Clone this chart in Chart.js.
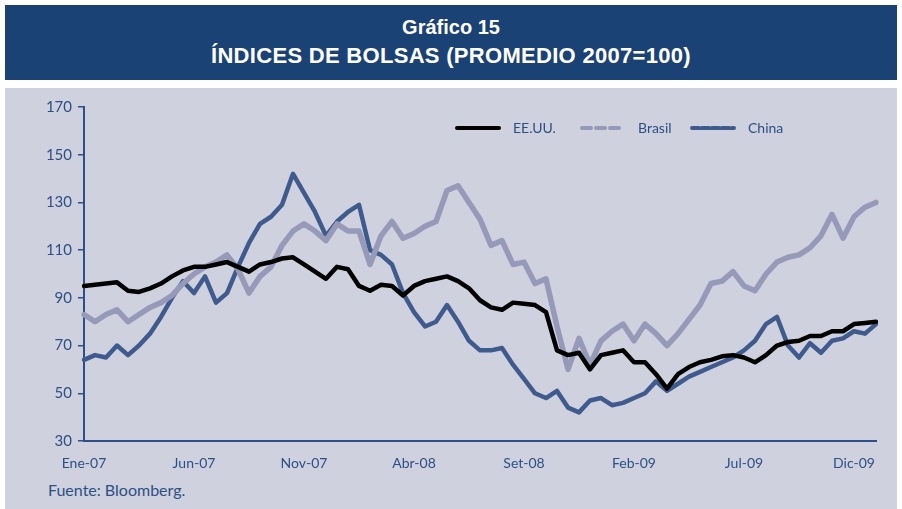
<!DOCTYPE html>
<html lang="es">
<head>
<meta charset="UTF-8">
<title>Índices de bolsas</title>
<script src="https://cdn.jsdelivr.net/npm/chart.js"></script>
<style>
    body { margin: 0; background: #ffffff; width: 902px; height: 509px; position: relative; overflow: hidden; font-family: Lato, "Noto Sans", sans-serif; }
    #cabecera {
        position: absolute; left: 5px; top: 5px; width: 892px; height: 75px;
        background: #1b4275; color: #ffffff; text-align: center;
        font-family: "Liberation Sans", sans-serif; font-weight: bold;
    }
    #cabecera .l1 { position: absolute; left: 0; right: 0; top: 11px; font-size: 20px; }
    #cabecera .l2 { position: absolute; left: 0; right: 0; top: 38px; font-size: 22px; letter-spacing: 0.3px; }
    #panel { position: absolute; left: 5px; top: 88px; width: 892px; height: 421px; background: #cfd1de; }
    #fuente { position: absolute; left: 48px; top: 480px; font-size: 16px; color: #2d4f85; }
    #wrap { position: absolute; left: 0; top: 0; width: 902px; height: 509px; }
</style>
</head>
<body>
<div id="cabecera">
    <div class="l1">Gráfico 15</div>
    <div class="l2">ÍNDICES DE BOLSAS (PROMEDIO 2007=100)</div>
</div>
<div id="panel"></div>
<div id="fuente">Fuente: Bloomberg.</div>
<div id="wrap"><canvas id="grafico" width="902" height="509"></canvas></div>

<script>
// datos quincenales, enero 2007 - diciembre 2009 (promedio 2007 = 100)
const meses = ["Ene", "Feb", "Mar", "Abr", "May", "Jun", "Jul", "Ago", "Set", "Oct", "Nov", "Dic"];
const anios = ["07", "08", "09", "10"];
const series = ["EE.UU.", "Brasil", "China"];

const eeuu = [95, 95.5, 96, 96.5, 93, 92.5, 94, 96, 99, 101.5, 103, 103, 104, 105, 103, 101, 104, 105, 106.5, 107,
    104, 101, 98, 103, 102, 95, 93, 95.5, 95, 91, 95, 97, 98, 99, 97, 94, 89, 86, 85, 88,
    87.5, 87, 84, 68, 66, 67, 60, 66, 67, 68, 63, 63, 58, 52, 58, 61, 63, 64, 65.5, 66,
    65, 63, 66, 70, 71.5, 72, 74, 74, 76, 76, 79, 79.5, 80];
const brasil = [83, 80, 83, 85, 80, 83, 86, 88, 91, 96, 100, 103, 105, 108, 102, 92, 99, 103, 112, 118,
    121, 118, 114, 121, 118, 118, 104, 116, 122, 115, 117, 120, 122, 135, 137, 130, 123, 112, 114, 104,
    105, 96, 98, 78, 60, 73, 62, 72, 76, 79, 72, 79, 75, 70, 75, 81, 87, 96, 97, 101,
    95, 93, 100, 105, 107, 108, 111, 116, 125, 115, 124, 128, 130];
const china = [64, 66, 65, 70, 66, 70, 75, 82, 90, 97, 92, 99, 88, 92, 103, 113, 121, 124, 129, 142,
    134, 126, 116, 122, 126, 129, 110, 108, 104, 92, 84, 78, 80, 87, 80, 72, 68, 68, 69, 62,
    56, 50, 48, 51, 44, 42, 47, 48, 45, 46, 48, 50, 55, 51, 54, 57, 59, 61, 63, 65,
    68, 72, 79, 82, 70, 65, 71, 67, 72, 73, 76, 75, 79];

const ejeY = { min: 30, max: 170, paso: 20 };

// etiquetas quincenales
const fechas = [];
for (let i = 0; i < eeuu.length; i++) {
    const m = Math.floor(i / 2);
    const etiqueta = meses[m % 12] + "-" + anios[Math.floor(m / 12)];
    fechas.push(i % 2 === 0 ? etiqueta : "15 " + etiqueta);
}

const azul = "#2d4f85";
const estilos = [
    { color: "#000000", ancho: 4.5, guion: [] },
    { color: "#9699b8", ancho: 5.5, guion: [9, 5] },
    { color: "#3f5b8e", ancho: 4.5, guion: [7, 3] }
];

// leyenda dentro del area del grafico
const leyenda = {
    id: "leyenda",
    afterDraw(chart) {
        const ctx = chart.ctx;
        const pos = [457, 582, 692];
        const y = 128;
        ctx.save();
        chart.data.datasets.forEach((ds, i) => {
            const e = estilos[i];
            ctx.strokeStyle = e.color;
            ctx.lineWidth = 4;
            ctx.lineCap = "round";
            ctx.setLineDash(e.guion);
            ctx.beginPath();
            ctx.moveTo(pos[i], y);
            ctx.lineTo(pos[i] + 42, y);
            ctx.stroke();
            ctx.setLineDash([]);
            ctx.fillStyle = azul;
            ctx.font = "14px Lato, 'Noto Sans', sans-serif";
            ctx.textBaseline = "middle";
            ctx.fillText(ds.label, pos[i] + 56, y);
        });
        ctx.restore();
    }
};

new Chart(document.getElementById("grafico"), {
    type: "line",
    data: {
        labels: fechas,
        datasets: [eeuu, brasil, china].map((d, i) => ({
            label: series[i],
            data: d,
            borderColor: estilos[i].color,
            borderWidth: estilos[i].ancho,
            pointRadius: 0,
            tension: 0,
            borderJoinStyle: "round",
            borderCapStyle: "round"
        }))
    },
    options: {
        responsive: false,
        animation: false,
        layout: { padding: { top: 107, right: 26, bottom: 28, left: 0 } },
        plugins: { legend: { display: false }, tooltip: { enabled: false } },
        scales: {
            x: {
                offset: false,
                grid: { display: false },
                border: { display: true, color: azul, width: 2 },
                ticks: {
                    autoSkip: false,
                    maxRotation: 0,
                    color: azul,
                    font: { size: 14, family: "Lato, 'Noto Sans', sans-serif" },
                    padding: 6,
                    callback: (v, i) => (i % 10 === 0 && i <= 70) ? fechas[i] : null
                },
                afterFit: s => { s.height = 40; }
            },
            y: {
                min: ejeY.min,
                max: ejeY.max,
                grid: { drawOnChartArea: false, drawTicks: true, tickLength: 6, color: azul, lineWidth: 1.5 },
                border: { display: true, color: azul, width: 2 },
                ticks: {
                    stepSize: ejeY.paso,
                    color: azul,
                    font: { size: 15, family: "Lato, 'Noto Sans', sans-serif" },
                    padding: 6
                },
                afterFit: s => { s.width = 84; }
            }
        }
    },
    plugins: [leyenda]
});
</script>
</body>
</html>
